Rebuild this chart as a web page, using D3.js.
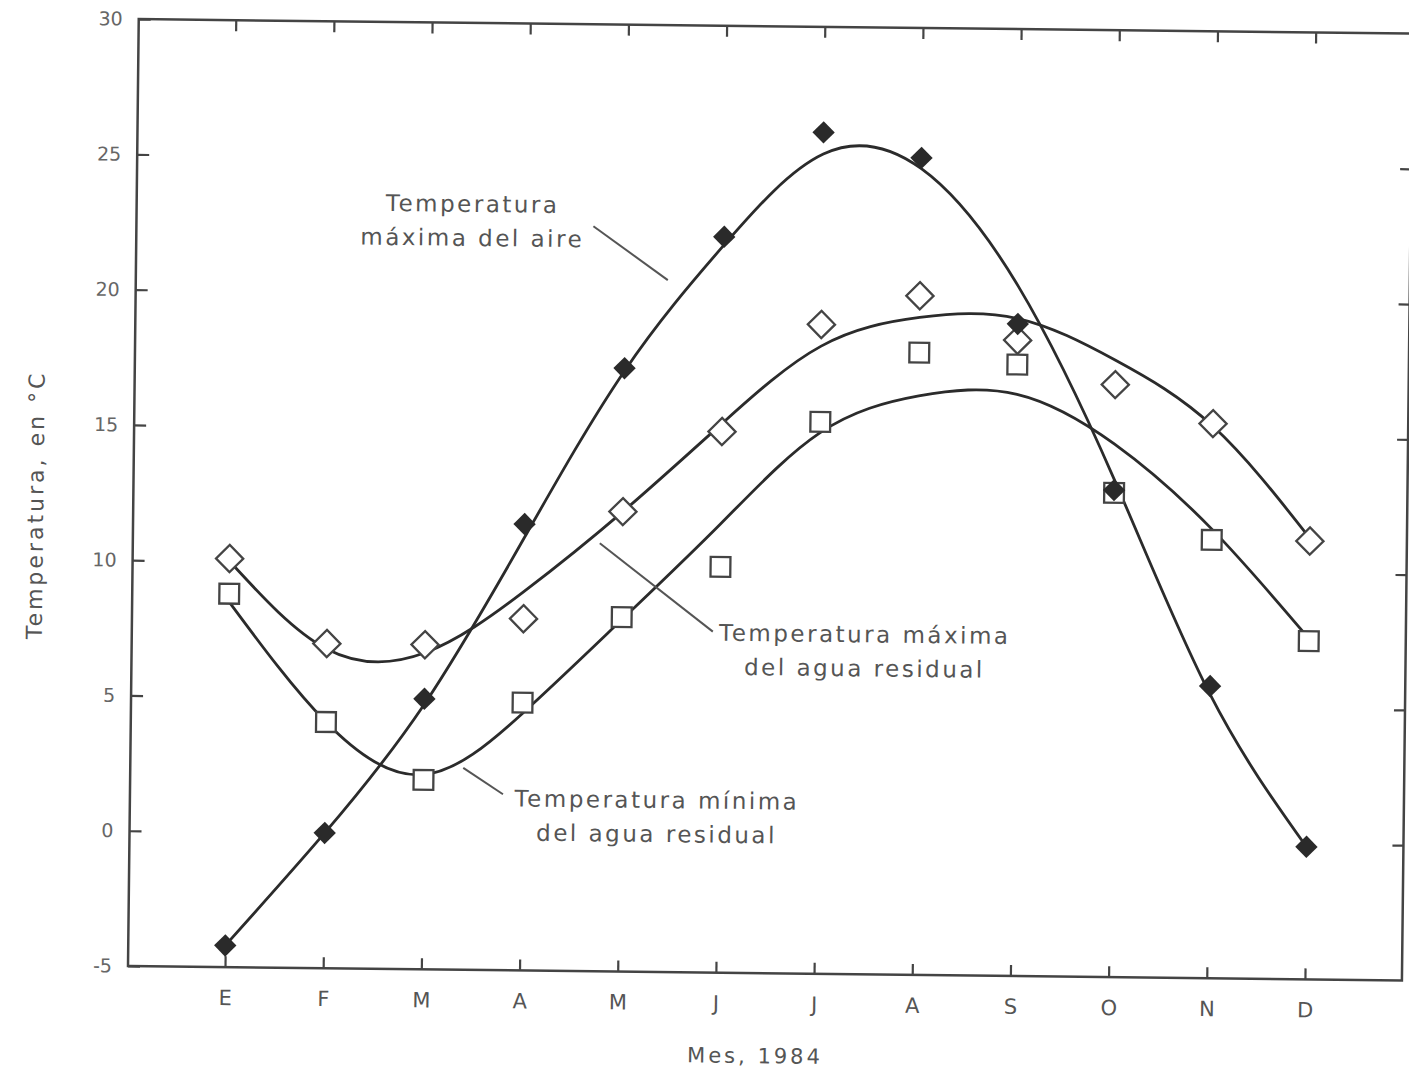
<!DOCTYPE html>
<html>
<head>
<meta charset="utf-8">
<script src="https://cdn.jsdelivr.net/npm/d3@7"></script>
<style>
  body { margin: 0; background: #fff; }
  svg { display: block; }
  text { font-family: "DejaVu Sans", sans-serif; fill: #555; }
</style>
</head>
<body>
<div id="chart"></div>
<script>
// month labels (Spanish initials)
var months = ["E", "F", "M", "A", "M", "J", "J", "A", "S", "O", "N", "D"];
var yTicks = [-5, 0, 5, 10, 15, 20, 25, 30];

// measured points
var airMax = [-4.2, 0, 5, 11.5, 17.3, 22.2, 26.1, 25.2, 19.1, 13.0, 5.8, -0.1];
var waterMax = [10.1, 7.0, 7.0, 8.0, 12.0, 15.0, 19.0, 20.1, 18.5, 16.9, 15.5, 11.2];
var waterMin = [8.8, 4.1, 2.0, 4.9, 8.1, 10.0, 15.4, 18.0, 17.6, 12.9, 11.2, 7.5];

// fitted curves at each month
var airCurve = [-4.2, 0, 4.8, 11.0, 17.2, 21.9, 25.3, 24.8, 20.5, 13.4, 5.5, -0.1];
var waterMaxCurve = [10.0, 6.8, 6.7, 9.0, 12.0, 15.3, 18.2, 19.3, 19.3, 17.8, 15.4, 11.3];
var waterMinCurve = [8.5, 4.1, 2.2, 4.5, 8.0, 11.6, 15.0, 16.4, 16.5, 14.7, 11.6, 7.6];

var w = 1409, h = 1076;
var x0 = 128, x1 = 1402;

var svg = d3.select("#chart").append("svg")
    .attr("width", w)
    .attr("height", h);

svg.append("rect").attr("width", w).attr("height", h).attr("fill", "#fff");

// the scanned page sits slightly turned
var g = svg.append("g").attr("transform", "rotate(0.65,127,966)");

var x = d3.scaleLinear().domain([0, 11]).range([225, 1305]);
var y = d3.scaleLinear().domain([-5, 30]).range([966, 19]);

// frame
g.append("rect")
    .attr("x", x0).attr("y", y(30))
    .attr("width", x1 - x0).attr("height", y(-5) - y(30))
    .attr("fill", "none")
    .attr("stroke", "#444")
    .attr("stroke-width", 2.5);

var axLeft = g.append("g")
    .attr("transform", "translate(" + x0 + ",0)")
    .call(d3.axisLeft(y).tickValues(yTicks).tickFormat(function(d) { return String(d); })
        .tickSizeInner(-12).tickSizeOuter(0).tickPadding(16));
var axBottom = g.append("g")
    .attr("transform", "translate(0," + y(-5) + ")")
    .call(d3.axisBottom(x).tickValues(d3.range(12)).tickFormat(function(i) { return months[i]; })
        .tickSizeInner(-11).tickSizeOuter(0).tickPadding(23));
var axTop = g.append("g")
    .attr("transform", "translate(0," + y(30) + ")")
    .call(d3.axisTop(x).tickValues(d3.range(12)).tickFormat("").tickSizeInner(-11).tickSizeOuter(0));
var axRight = g.append("g")
    .attr("transform", "translate(" + x1 + ",0)")
    .call(d3.axisRight(y).tickValues([0, 5, 10, 15, 20, 25]).tickFormat("").tickSizeInner(-11).tickSizeOuter(0));

[axLeft, axBottom, axTop, axRight].forEach(function(a) {
    a.select(".domain").remove();
    a.selectAll(".tick line").attr("stroke", "#444").attr("stroke-width", 2.2);
    a.selectAll("text").attr("fill", "#555");
});
axLeft.selectAll("text").style("font-size", "19px").style("fill", "#666");
axBottom.selectAll("text").style("font-size", "21px").style("fill", "#555");

// curves
var line = d3.line()
    .x(function(d, i) { return x(i); })
    .y(function(d) { return y(d); })
    .curve(d3.curveNatural);

[airCurve, waterMaxCurve, waterMinCurve].forEach(function(c) {
    g.append("path")
        .attr("d", line(c))
        .attr("fill", "none")
        .attr("stroke", "#2b2b2b")
        .attr("stroke-width", 2.8);
});

// markers
var sq = d3.symbol().type(d3.symbolSquare);

g.append("g").selectAll("path")
    .data(waterMax)
    .enter().append("path")
    .attr("d", sq.size(370)())
    .attr("transform", function(d, i) { return "translate(" + x(i) + "," + y(d) + ")rotate(45)"; })
    .attr("fill", "#fff")
    .attr("stroke", "#444")
    .attr("stroke-width", 2.3);

g.append("g").selectAll("path")
    .data(waterMin)
    .enter().append("path")
    .attr("d", sq.size(390)())
    .attr("transform", function(d, i) { return "translate(" + x(i) + "," + y(d) + ")"; })
    .attr("fill", "#fff")
    .attr("stroke", "#444")
    .attr("stroke-width", 2.3);

g.append("g").selectAll("path")
    .data(airMax)
    .enter().append("path")
    .attr("d", sq.size(250)())
    .attr("transform", function(d, i) { return "translate(" + x(i) + "," + y(d) + ")rotate(45)"; })
    .attr("fill", "#2a2a2a");

// annotations
var notes = [
    {lines: ["Temperatura", "máxima del aire"], x: 464, y: 208, lead: [[585, 221], [660, 274]]},
    {lines: ["Temperatura máxima", "del agua residual"], x: 861, y: 634, lead: [[595, 538], [709, 625]]},
    {lines: ["Temperatura mínima", "del agua residual"], x: 655, y: 802, lead: [[461, 764], [501, 790]]}
];

notes.forEach(function(n) {
    g.append("line")
        .attr("x1", n.lead[0][0]).attr("y1", n.lead[0][1])
        .attr("x2", n.lead[1][0]).attr("y2", n.lead[1][1])
        .attr("stroke", "#555")
        .attr("stroke-width", 2);
    var t = g.append("text")
        .attr("text-anchor", "middle")
        .style("font-size", "23px")
        .style("letter-spacing", "2.5px");
    n.lines.forEach(function(s, i) {
        t.append("tspan").attr("x", n.x).attr("y", n.y + i * 34).text(s);
    });
});

// axis titles
g.append("text")
    .attr("x", 756).attr("y", 1056)
    .attr("text-anchor", "middle")
    .style("font-size", "21px")
    .style("letter-spacing", "3px")
    .text("Mes, 1984");

g.append("text")
    .attr("transform", "translate(38,506)rotate(-90)")
    .attr("text-anchor", "middle")
    .style("font-size", "22px")
    .style("letter-spacing", "3px")
    .text("Temperatura, en °C");
</script>
</body>
</html>
